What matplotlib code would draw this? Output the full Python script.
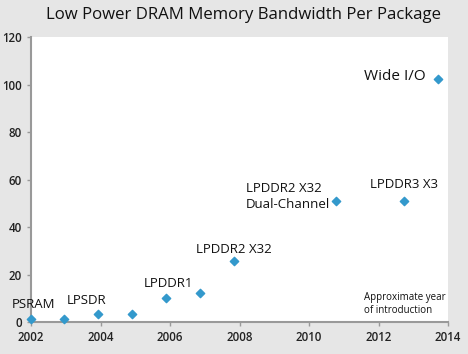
import matplotlib.pyplot as plt

# データ
years = [2002.0, 2002.95, 2003.93, 2004.9, 2005.88, 2006.86, 2007.84, 2010.78, 2012.73, 2013.71]
bandwidth = [1.3, 1.3, 3.4, 3.4, 10.1, 12.4, 25.5, 51.0, 51.0, 102.5]

labels = ["PSRAM", "LPSDR", "LPDDR1", "LPDDR2 X32", "LPDDR2 X32\nDual-Channel", "LPDDR3 X3", "Wide I/O"]
label_pos = [(2001.45, 7.4), (2003.04, 9.0), (2005.25, 16.2), (2006.75, 30.5),
             (2008.19, 52.8), (2011.76, 57.7), (2011.58, 103.2)]
label_size = [9.5, 9.5, 9.5, 9.5, 9.5, 9.5, 11]

xticks = [2002, 2004, 2006, 2008, 2010, 2012, 2014]
yticks = [0, 20, 40, 60, 80, 100, 120]

plt.rcParams['font.family'] = ['Open Sans', 'DejaVu Sans']

fig = plt.figure(figsize=(4.68, 3.54), dpi=100, facecolor="#e6e6e6")
ax = fig.add_axes([31/468, 32/354, 417/468, 285/354])
ax.set_facecolor("white")

ax.scatter(years, bandwidth, marker="D", s=18, color="#3399cc", zorder=3, clip_on=False)

for t, (x, y), fs in zip(labels, label_pos, label_size):
    ax.text(x, y, t, fontsize=fs, ha="left", va="center", color="#111111",
            linespacing=1.25, clip_on=False)

ax.text(2011.58, 7.6, "Approximate year\nof introduction", fontsize=7, ha="left",
        va="center", color="#111111", linespacing=1.15)

ax.set_xlim(2002, 2014)
ax.set_ylim(0, 120)
ax.set_xticks(xticks)
ax.set_yticks(yticks)
ax.tick_params(axis="both", colors="#999999", labelcolor="#222222", labelsize=8.3,
               length=3, width=1, direction="out")
for lab in ax.get_xticklabels() + ax.get_yticklabels():
    lab.set_fontweight("semibold")

for s in ["top", "right"]:
    ax.spines[s].set_visible(False)
for s in ["left", "bottom"]:
    ax.spines[s].set_color("#999999")
    ax.spines[s].set_linewidth(1.5)

fig.text(243/468, 1 - 15/354, "Low Power DRAM Memory Bandwidth Per Package",
         fontsize=12.1, ha="center", va="center", color="#111111")

fig.savefig("out.png", dpi=100, facecolor=fig.get_facecolor())
